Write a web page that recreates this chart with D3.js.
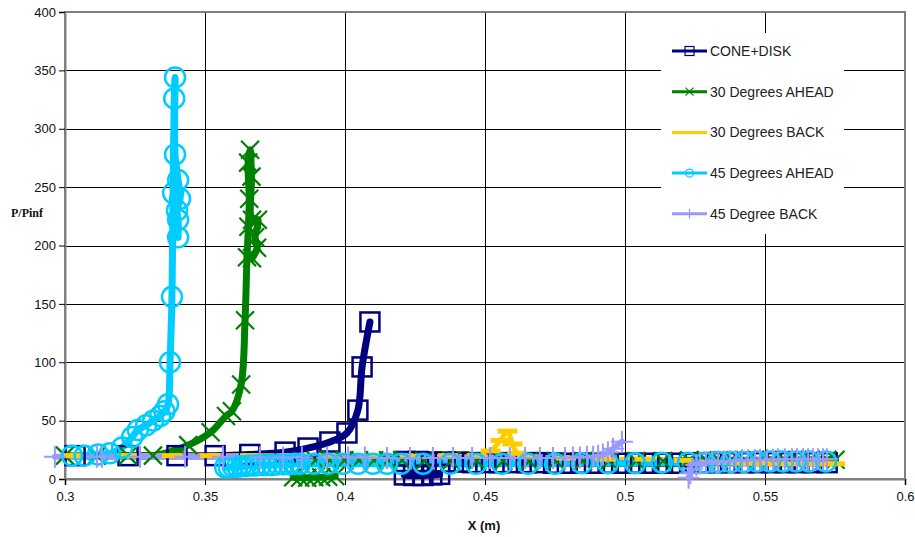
<!DOCTYPE html>
<html><head><meta charset="utf-8">
<script src="https://cdn.jsdelivr.net/npm/d3@7"></script>
<style>body{margin:0;background:#fff}text{font-family:"Liberation Sans",Arial,sans-serif}</style>
</head><body>
<svg id="chart" width="915" height="537"></svg>
<script>
// ---------------- data ----------------
const seriesNames = ["CONE+DISK", "30 Degrees AHEAD", "30 Degrees BACK", "45 Degrees AHEAD", "45 Degree BACK"];
const xTicks = [0.3, 0.35, 0.4, 0.45, 0.5, 0.55, 0.6];
const yTicks = [0, 50, 100, 150, 200, 250, 300, 350, 400];

const coneX = [0.3036, 0.3225, 0.3400, 0.3536, 0.3660, 0.3786, 0.3868, 0.3946, 0.4007, 0.4046, 0.4061, 0.4089, null,
  0.4212, 0.4245, 0.4278, 0.4310, 0.4338, null,
  0.4215, 0.4262, 0.4310, 0.4358, 0.4406, 0.4455, 0.4503, 0.4551, 0.4600, 0.4648, 0.4697, 0.4745, 0.4794, 0.4842, 0.4891, 0.4940,
  0.4988, 0.5037, 0.5085, 0.5134, 0.5183, 0.5231, 0.5280, 0.5329, 0.5377, 0.5426, 0.5475, 0.5523, 0.5572, 0.5621, 0.5670, 0.5722];
const coneY = [20, 20, 20, 20, 21, 23, 26.5, 31.7, 39.4, 59, 96, 134.5, null,
  3.5, 3, 3, 3.5, 4, null,
  15, 15, 14.5, 14.5, 14.5, 14, 14, 14, 14, 14, 14, 13.5, 13.5, 13.5, 13.5, 13.5,
  13.5, 13.5, 13.5, 13.5, 13.5, 13.5, 14, 14, 14, 14, 14, 14, 14, 14, 14, 14];

const ahead30X = [0.3000, 0.3114, 0.3225, 0.3314, 0.3440, 0.3520, 0.3575, 0.3596, 0.3629, 0.3643, 0.3650, 0.3655, 0.3658, 0.3654, 0.3661,
  0.3666, 0.3668, 0.3689, 0.3679, 0.3686, 0.3668, null,
  0.3815, 0.3840, 0.3865, 0.3890, 0.3915, 0.3940, 0.3965, null,
  0.3895, 0.3945, 0.3998, 0.4050, 0.4104, 0.4154, 0.4204, 0.4283, 0.4379, 0.4472, 0.4565, 0.4658, 0.4754, 0.4850, 0.4943,
  0.5040, 0.5136, 0.5229, 0.5290, 0.5336, 0.5383, 0.5429, 0.5475, 0.5522, 0.5568, 0.5615, 0.5661, 0.5722, 0.5752];
const ahead30Y = [20, 20, 20, 20, 29, 40, 54, 58, 81, 136, 190, 216, 240, 271, 282,
  259, 222, 222, 207, 198, 189, null,
  1.5, 1, 1, 1.5, 1.5, 2, 2.5, null,
  16, 16, 16, 16, 16, 16, 16, 15.5, 15.5, 15.5, 15.5, 15.5, 15.5, 15.5, 15.5,
  15.5, 15.5, 16, 16, 16, 16, 16, 16, 16.5, 16.5, 16.5, 16.5, 16.5, 16.5];

const back30X = [0.3029, 0.3221, 0.3382, 0.3518, 0.3661, 0.3804, 0.3946, 0.4089, 0.4232, 0.4368, 0.4470, 0.4520, 0.4555, 0.4580, 0.4598,
  0.4615, 0.4650, 0.4790, 0.4930, 0.5070, 0.5210, 0.5300, 0.5360, 0.5420, 0.5480, 0.5540, 0.5600, 0.5660, 0.5720, 0.5750];
const back30Y = [20, 20, 20, 20, 20, 20, 19.5, 19.5, 19.5, 20, 20, 24, 33, 41, 30,
  22, 19, 18, 17, 17, 16, 14, 14, 13.5, 13.5, 13, 13, 13, 13, 13];

const ahead45X = [0.3025, 0.3070, 0.3118, 0.3160, 0.3204, 0.3240, 0.3260, 0.3290, 0.3315, 0.3340, 0.3355, 0.3368, 0.3375, 0.3382, 0.3386,
  0.3390, 0.3393, 0.3393, 0.3404, 0.3411, 0.3400, 0.3404, 0.3404, null,
  0.3572, 0.3585, 0.3600, 0.3615, 0.3630, 0.3645, 0.3660, 0.3680, 0.3700, 0.3720, 0.3740, 0.3760, 0.3780, 0.3800, 0.3820,
  0.3839, 0.3889, 0.3939, 0.3993, 0.4046, 0.4100, 0.4150, 0.4200, 0.4279, 0.4375, 0.4468, 0.4561, 0.4654, 0.4750, 0.4846,
  0.4939, 0.5036, 0.5132, 0.5225, 0.5286, 0.5332, 0.5379, 0.5425, 0.5471, 0.5518, 0.5564, 0.5611, 0.5657, 0.5718];
const ahead45Y = [20, 20, 21, 22, 27, 36, 42, 46, 50, 54, 58, 64, 100, 156, 245,
  326, 344, 278, 256, 240, 230, 222, 207, null,
  10, 10, 10.5, 10.5, 11, 11, 11.5, 11.5, 12, 12, 12, 12.5, 12.5, 12.5, 13,
  13, 13, 13, 13, 13, 13, 13, 13, 13, 13, 13, 13, 13, 13, 13.5,
  13.5, 13.5, 14, 14, 14, 14.5, 14.5, 14.5, 15, 15, 15, 15, 15, 15];

const back45X = [0.2964, 0.3114, 0.3132, 0.3268, 0.3429, 0.3564, 0.3696, 0.3779, 0.3846, 0.3936, 0.4011, 0.4071, 0.4150, 0.4232, 0.4314,
  0.4386, 0.4454, 0.4518, 0.4589, 0.4643, 0.4696, 0.4743, 0.4786, 0.4814, 0.4839, 0.4864, 0.4886, 0.4904, 0.4921, 0.4939, 0.4957, 0.4989, null,
  0.5227, 0.5233, 0.5240, 0.5255, 0.5268, 0.5289, 0.5311, 0.5332, 0.5354, 0.5375, 0.5396, 0.5418, 0.5439, 0.5464, 0.5482,
  0.5507, 0.5529, 0.5546, 0.5571, 0.5596, 0.5614, 0.5636, 0.5654, 0.5671, 0.5689, 0.5707, 0.5721];
const back45Y = [19, 19, 19, 19, 19, 19, 18.5, 18.5, 18.5, 18.5, 18.5, 18.5, 18, 18, 18,
  18, 18, 18, 18, 18, 18, 18, 18, 18.5, 18.5, 19, 19, 20, 21, 23, 26, 32, null,
  1, 5, 9, 12, 13.5, 14, 14.5, 15, 15, 15.5, 15.5, 16, 16, 16, 16.5,
  16.5, 16.5, 17, 17, 17, 17, 17, 17, 17, 17, 17, 17];

// ---------------- styles ----------------
const styles = [
  {color: "#000080", marker: "square", lw: 7},
  {color: "#008000", marker: "x", lw: 7},
  {color: "#FFCC00", marker: "dash", lw: 5},
  {color: "#00CCFF", marker: "circle", lw: 7},
  {color: "#9999FF", marker: "plus", lw: 6}
];
const xsAll = [coneX, ahead30X, back30X, ahead45X, back45X];
const ysAll = [coneY, ahead30Y, back30Y, ahead45Y, back45Y];

const series = seriesNames.map((name, i) => ({
  name, color: styles[i].color, marker: styles[i].marker, lw: styles[i].lw,
  pts: xsAll[i].map((x, j) => ({x, y: ysAll[i][j]}))
}));

// ---------------- layout ----------------
const svg = d3.select("#chart");
const L = 65, R = 905, T = 12, B = 479;
const x = d3.scaleLinear().domain([0.3, 0.6]).range([L, R]);
const y = d3.scaleLinear().domain([0, 400]).range([B, T]);

// gridlines
const grid = svg.append("g");
grid.selectAll("line.h").data(yTicks.slice(1, -1)).join("line")
  .attr("x1", L).attr("x2", R).attr("y1", d => Math.round(y(d)) + 0.5).attr("y2", d => Math.round(y(d)) + 0.5)
  .attr("stroke", "#000").attr("stroke-width", 1);
grid.selectAll("line.v").data(xTicks.slice(1, -1)).join("line")
  .attr("y1", T).attr("y2", B).attr("x1", d => Math.round(x(d)) + 0.5).attr("x2", d => Math.round(x(d)) + 0.5)
  .attr("stroke", "#000").attr("stroke-width", 1);

// frame
svg.append("rect").attr("x", L).attr("y", T).attr("width", R - L).attr("height", B - T)
  .attr("fill", "none").attr("stroke", "#808080").attr("stroke-width", 2);

// axes
const yAxis = d3.axisLeft(y).tickValues(yTicks).tickSize(6).tickPadding(3).tickFormat(d3.format("d"));
const gy = svg.append("g").attr("transform", `translate(${L},0)`).call(yAxis);
const xAxis = d3.axisBottom(x).tickValues(xTicks).tickSize(6).tickPadding(7).tickFormat(d => String(+d.toFixed(2)));
const gx = svg.append("g").attr("transform", `translate(0,${B})`).call(xAxis);
[gy, gx].forEach(g => {
  g.select(".domain").attr("stroke", "#808080").attr("stroke-width", 2);
  g.selectAll(".tick line").attr("stroke", "#000");
  g.selectAll(".tick text").attr("font-size", 13).attr("fill", "#111")
    .style("font-family", "'Liberation Sans', Arial, sans-serif");
});

// axis titles
svg.append("text").attr("x", 484).attr("y", 530).attr("text-anchor", "middle")
  .attr("font-size", 13).attr("font-weight", "bold").attr("fill", "#111").text("X (m)");
svg.append("text").attr("x", 11).attr("y", 217).attr("text-anchor", "start")
  .style("font-family", "'Liberation Serif', 'Times New Roman', serif")
  .attr("font-size", 12).attr("font-weight", "bold").attr("fill", "#111").text("P/Pinf");

// ---------------- lines ----------------
const line = d3.line().defined(d => d.y != null && d.x != null)
  .x(d => x(d.x)).y(d => y(d.y)).curve(d3.curveCatmullRom.alpha(0.5));
const linesG = svg.append("g");
series.forEach(s => {
  linesG.append("path").attr("d", line(s.pts)).attr("fill", "none")
    .attr("stroke", s.color).attr("stroke-width", s.lw).attr("stroke-linejoin", "round").attr("stroke-linecap", "round");
});

// ---------------- markers ----------------
function drawMarker(g, type, cx, cy, color, size, sw) {
  const h = size / 2;
  if (type === "square") {
    g.append("rect").attr("x", cx - h).attr("y", cy - h).attr("width", size).attr("height", size)
      .attr("fill", "none").attr("stroke", color).attr("stroke-width", sw || 2.5);
  } else if (type === "x") {
    g.append("path").attr("d", `M${cx - h},${cy - h}L${cx + h},${cy + h}M${cx - h},${cy + h}L${cx + h},${cy - h}`)
      .attr("stroke", color).attr("stroke-width", sw || 2.2).attr("fill", "none");
  } else if (type === "circle") {
    g.append("circle").attr("cx", cx).attr("cy", cy).attr("r", h)
      .attr("fill", "none").attr("stroke", color).attr("stroke-width", sw || 2.5);
  } else if (type === "plus") {
    g.append("path").attr("d", `M${cx - h},${cy}L${cx + h},${cy}M${cx},${cy - h}L${cx},${cy + h}`)
      .attr("stroke", color).attr("stroke-width", sw || 2).attr("fill", "none");
  } else if (type === "dash") {
    g.append("rect").attr("x", cx - h).attr("y", cy - 2.5).attr("width", size).attr("height", 5).attr("fill", color);
  }
}
const markerSize = {square: 19, x: 18, circle: 20, plus: 22, dash: 20};
const markG = svg.append("g");
series.forEach(s => {
  s.pts.filter(d => d.y != null).forEach(d => drawMarker(markG, s.marker, x(d.x), y(d.y), s.color, markerSize[s.marker]));
});

// ---------------- legend ----------------
const lg = svg.append("g");
lg.append("rect").attr("x", 661).attr("y", 33).attr("width", 183).attr("height", 201).attr("fill", "#fff");
const legendSize = {square: 9, x: 8, circle: 8, plus: 10, dash: 0};
series.forEach((s, i) => {
  const ly = 51 + i * 40.7;
  lg.append("line").attr("x1", 672).attr("x2", 707).attr("y1", ly).attr("y2", ly)
    .attr("stroke", s.color).attr("stroke-width", 3);
  if (s.marker !== "dash") {
    drawMarker(lg, s.marker, 689.5, ly, s.color, legendSize[s.marker], 1.2);
  }
  lg.append("text").attr("x", 710).attr("y", ly + 5).attr("font-size", 14).attr("fill", "#222").text(s.name);
});
</script>
</body></html>
